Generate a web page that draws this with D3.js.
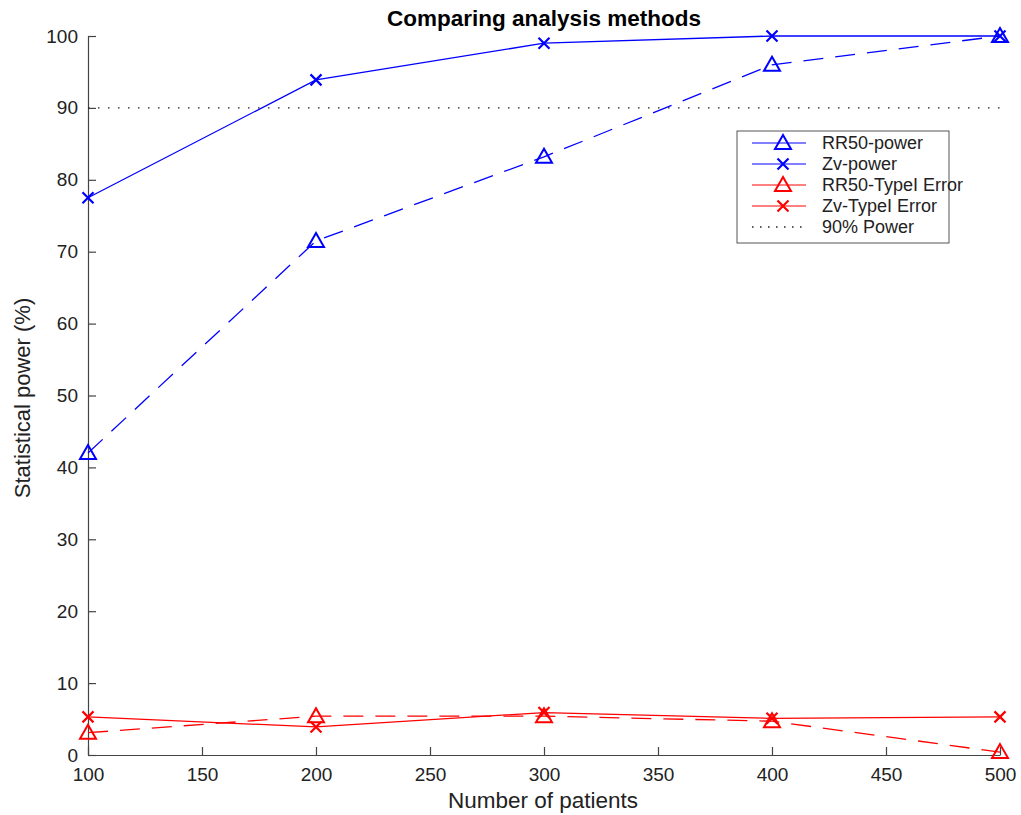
<!DOCTYPE html>
<html>
<head>
<meta charset="utf-8">
<script src="https://cdn.jsdelivr.net/npm/d3@7"></script>
<style>
  body { margin: 0; background: #fff; }
  text { font-family: "Liberation Sans", Arial, sans-serif; }
</style>
</head>
<body>
<div id="chart"></div>
<script>
// Data
var patients = [100, 200, 300, 400, 500];
var rr50Power = [42, 71.5, 83.2, 96, 100];
var zvPower = [77.5, 93.9, 99, 100, 100];
var rr50TypeI = [3.1, 5.4, 5.4, 4.7, 0.4];
var zvTypeI = [5.3, 3.9, 5.9, 5.1, 5.3];
var powerLine = 90;
var xTicks = [100, 150, 200, 250, 300, 350, 400, 450, 500];
var yTicks = [0, 10, 20, 30, 40, 50, 60, 70, 80, 90, 100];

var series = [
  { name: "RR50-power", values: rr50Power, color: "#0000ff", dash: "20,12", marker: "tri" },
  { name: "Zv-power", values: zvPower, color: "#0000ff", dash: null, marker: "x" },
  { name: "RR50-TypeI Error", values: rr50TypeI, color: "#ff0000", dash: "20,12", marker: "tri" },
  { name: "Zv-TypeI Error", values: zvTypeI, color: "#ff0000", dash: null, marker: "x" }
];

var width = 1021, height = 815;
var m = { left: 88, right: 21, top: 36, bottom: 60 };

var svg = d3.select("#chart").append("svg")
    .attr("width", width)
    .attr("height", height);

var x = d3.scaleLinear().domain([100, 500]).range([m.left, width - m.right]);
var y = d3.scaleLinear().domain([0, 100]).range([height - m.bottom, m.top]);

// axes, ticks pointing inward like matlab
var xAxis = svg.append("g")
    .attr("transform", "translate(0," + y(0) + ")")
    .call(d3.axisBottom(x).tickValues(xTicks).tickSizeInner(-8).tickSizeOuter(0).tickPadding(12));
var yAxis = svg.append("g")
    .attr("transform", "translate(" + x(100) + ",0)")
    .call(d3.axisLeft(y).tickValues(yTicks).tickSizeInner(-8).tickSizeOuter(0).tickPadding(10));

[xAxis, yAxis].forEach(function(a) {
  a.select(".domain").attr("stroke", "#444").attr("stroke-width", 1.2);
  a.selectAll(".tick line").attr("stroke", "#444").attr("stroke-width", 1.2);
  a.selectAll(".tick text").attr("font-size", 19).attr("fill", "#222")
      .style("font-family", "'Liberation Sans', Arial, sans-serif");
});
xAxis.selectAll(".tick text").attr("dy", "0.72em");

// 90% power reference
svg.append("line")
    .attr("x1", x(100)).attr("x2", x(500))
    .attr("y1", y(powerLine)).attr("y2", y(powerLine))
    .attr("stroke", "#222")
    .attr("stroke-width", 1.3)
    .attr("stroke-dasharray", "1.5,8.5");

var line = d3.line()
    .x(function(d, i) { return x(patients[i]); })
    .y(function(d) { return y(d); });

function drawMarker(g, type, cx, cy, color) {
  if (type == "tri") {
    g.append("path")
        .attr("d", "M" + cx + "," + (cy - 8) + " L" + (cx + 8) + "," + (cy + 6) + " L" + (cx - 8) + "," + (cy + 6) + " Z")
        .attr("fill", "none")
        .attr("stroke", color)
        .attr("stroke-width", 2);
  } else {
    g.append("path")
        .attr("d", "M" + (cx - 5.5) + "," + (cy - 5.5) + " L" + (cx + 5.5) + "," + (cy + 5.5) +
                   " M" + (cx + 5.5) + "," + (cy - 5.5) + " L" + (cx - 5.5) + "," + (cy + 5.5))
        .attr("stroke", color)
        .attr("stroke-width", 2.2);
  }
}

series.forEach(function(s) {
  var g = svg.append("g");
  g.append("path")
      .attr("d", line(s.values))
      .attr("fill", "none")
      .attr("stroke", s.color)
      .attr("stroke-width", 1.3)
      .attr("stroke-dasharray", s.dash);
  s.values.forEach(function(v, i) {
    drawMarker(g, s.marker, x(patients[i]), y(v), s.color);
  });
});

// title and labels
svg.append("text")
    .attr("x", 544).attr("y", 26)
    .attr("text-anchor", "middle")
    .attr("font-size", 22.5)
    .attr("font-weight", "bold")
    .text("Comparing analysis methods");

svg.append("text")
    .attr("x", 543).attr("y", 808)
    .attr("text-anchor", "middle")
    .attr("font-size", 22.5)
    .attr("fill", "#222")
    .text("Number of patients");

svg.append("text")
    .attr("transform", "translate(30," + 398 + ") rotate(-90)")
    .attr("text-anchor", "middle")
    .attr("font-size", 22)
    .attr("fill", "#222")
    .text("Statistical power (%)");

// legend
var lg = { x: 737, y: 131, w: 212, h: 112, row: 21 };
var legend = svg.append("g");
legend.append("rect")
    .attr("x", lg.x).attr("y", lg.y)
    .attr("width", lg.w).attr("height", lg.h)
    .attr("fill", "#fff")
    .attr("stroke", "#555")
    .attr("stroke-width", 1);

var items = series.concat([{ name: "90% Power", color: "#222", dot: true }]);
items.forEach(function(s, i) {
  var cy = lg.y + 12 + i * lg.row;
  legend.append("line")
      .attr("x1", lg.x + 15).attr("x2", lg.x + 69)
      .attr("y1", cy).attr("y2", cy)
      .attr("stroke", s.color)
      .attr("stroke-width", s.dot ? 1.3 : 1)
      .attr("stroke-dasharray", s.dot ? "1.5,6.5" : null);
  if (s.marker) drawMarker(legend, s.marker, lg.x + 46, cy, s.color);
  legend.append("text")
      .attr("x", lg.x + 85).attr("y", cy)
      .attr("dy", "0.35em")
      .attr("font-size", 18)
      .attr("fill", "#222")
      .text(s.name);
});
</script>
</body>
</html>
